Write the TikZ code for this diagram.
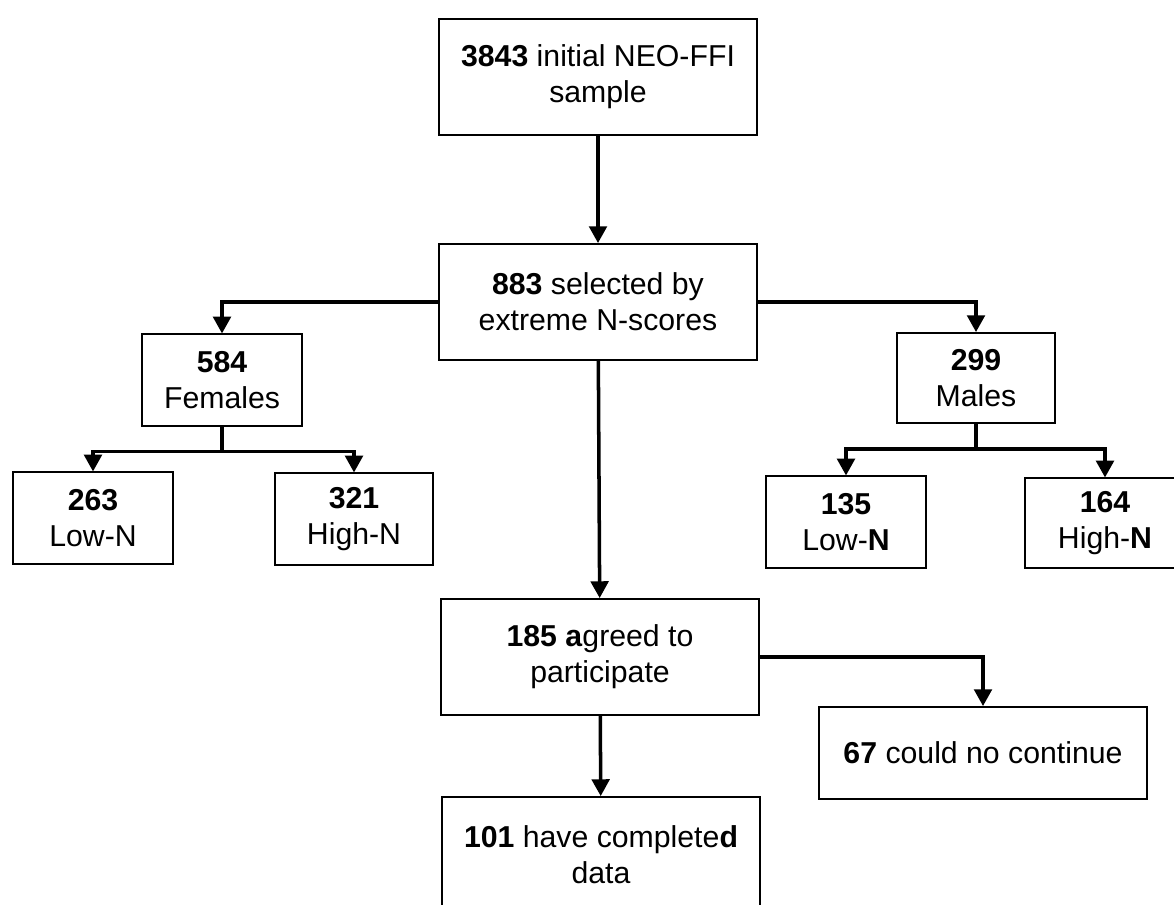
\documentclass[tikz,border=0pt]{standalone}
\usepackage{fontspec}
\setmainfont{Liberation Sans}
\usetikzlibrary{arrows.meta}
\begin{document}
\begin{tikzpicture}[x=0.025cm,y=-0.025cm,
		font=\fontsize{21.5}{25.5}\selectfont,
		>={Triangle[width=0.44cm,length=0.42cm]},
		box/.style={draw,line width=1.3pt,align=center,inner sep=0pt,
			minimum width=4cm,minimum height=2.28cm},
		bigbox/.style={box,minimum width=7.95cm,minimum height=2.9cm},
		link/.style={->,line width=2.5pt}]
		\useasboundingbox (0,0) rectangle (1174,905);
		\node[bigbox] (init) at (598,77) {\textbf{3843} initial NEO-FFI\\sample};
		\node[bigbox] (sel) at (598,302) {\textbf{883} selected by\\extreme N-scores};
		\node[box] (fem) at (222,380) {\textbf{584}\\Females};
		\node[box,minimum width=3.95cm,minimum height=2.25cm] (male) at (976,378) {\textbf{299}\\Males};
		\node[box] (flow) at (93,518) {\textbf{263}\\Low-N};
		\node[box,minimum width=3.95cm] (fhigh) at (354,519) {\textbf{321}\\High-N};
		\node[box] (mlow) at (846,522) {\textbf{135}\\Low-\textbf{N}};
		\node[box,minimum height=2.23cm] (mhigh) at (1105,523) {\textbf{164}\\High-\textbf{N}};
		\node[bigbox] (agree) at (600,657) {\textbf{185 a}greed to\\participate};
		\node[box,minimum width=8.2cm,minimum height=2.3cm] (drop) at (983,753) {\textbf{67} could no continue};
		\node[bigbox] (done) at (601,855) {\textbf{101} have complete\textbf{d}\\data};
		\draw[link] (init) -- (sel);
		\draw[link] (sel.west) -| (fem.north);
		\draw[link] (sel.east) -| (male.north);
		\draw[link] (fem.south) -- ++(0,25) -| (flow.north);
		\draw[link] (fem.south) -- ++(0,25) -| (fhigh.north);
		\draw[link] (male.south) -- ++(0,25) -| (mlow.north);
		\draw[link] (male.south) -- ++(0,25) -| (mhigh.north);
		\draw[link] (sel) -- (agree);
		\draw[link] (agree.east) -| (drop.north);
		\draw[link] (agree) -- (done);
	\end{tikzpicture}
\end{document}
